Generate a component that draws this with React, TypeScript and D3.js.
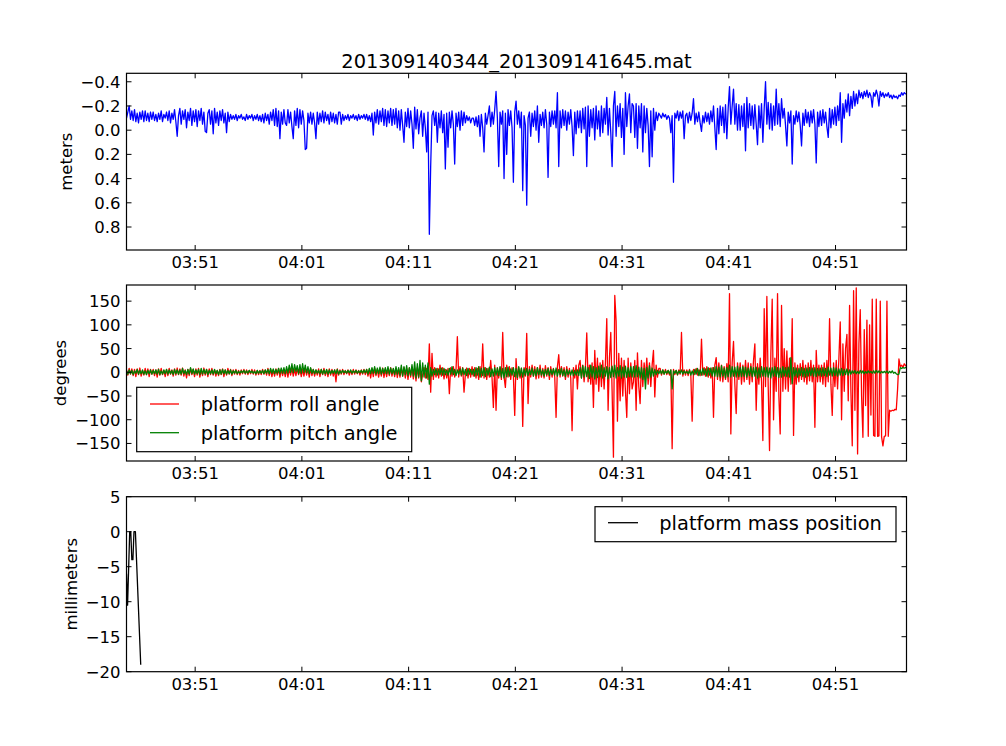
import * as d3 from "d3";

// sample clock: one reading every 7.5 s from the first timestamp
const day = (h: number, m: number, s = 0) => new Date(2013, 8, 14, h, m, s);
const START = day(3, 44, 34);
const END = day(4, 57, 39);
const STEP_MS = 7500;

const title = "201309140344_201309141645.mat";
const timeTicks = ["03:51", "04:01", "04:11", "04:21", "04:31", "04:41", "04:51"];
const depthTicks = [-0.4, -0.2, 0.0, 0.2, 0.4, 0.6, 0.8];
const angleTicks = [-150, -100, -50, 0, 50, 100, 150];
const massTicks = [-20, -15, -10, -5, 0, 5];

// platform depth (meters), positive down; 20 readings per 2.5 min
const depth = [
  -0.10, -0.15, -0.20, -0.09, -0.16, -0.08, -0.17, -0.07, -0.14, -0.06, -0.15, -0.09, -0.16, -0.07, -0.16, -0.08, -0.14, -0.07, -0.15, -0.09,
  -0.15, -0.08, -0.13, -0.07, -0.14, -0.09, -0.16, -0.07, -0.13, -0.10, -0.15, -0.08, -0.16, -0.06, -0.14, -0.09, -0.17, -0.07, 0.05, -0.12,
  -0.18, -0.05, -0.16, -0.09, -0.17, -0.02, -0.15, -0.08, -0.18, -0.04, -0.16, -0.07, -0.17, -0.03, -0.16, -0.08, -0.18, -0.05, -0.15, 0.01,
  0.02, -0.14, -0.17, -0.05, -0.16, 0.03, -0.18, -0.06, -0.15, -0.04, -0.16, -0.08, -0.17, -0.06, -0.14, 0.02, -0.15, -0.07, -0.13, -0.09,
  -0.12, -0.09, -0.13, -0.08, -0.12, -0.10, -0.13, -0.09, -0.11, -0.08, -0.13, -0.09, -0.12, -0.10, -0.13, -0.08, -0.12, -0.09, -0.13, -0.08,
  -0.12, -0.07, -0.13, -0.06, -0.14, -0.08, -0.13, -0.05, -0.15, -0.08, -0.17, -0.04, -0.18, -0.03, -0.16, 0.07, -0.15, -0.05, -0.17, -0.06,
  -0.04, -0.17, -0.06, -0.15, -0.03, 0.07, -0.16, -0.04, -0.18, -0.02, -0.17, -0.05, -0.16, -0.08, 0.16, 0.15, -0.14, -0.06, -0.15, -0.05,
  -0.14, -0.06, 0.07, -0.15, -0.05, -0.14, -0.07, -0.16, -0.06, -0.15, -0.08, -0.13, -0.05, -0.15, -0.07, -0.14, -0.06, -0.13, -0.05, -0.15,
  -0.15, -0.05, -0.13, -0.08, -0.12, -0.09, -0.13, -0.08, -0.12, -0.10, -0.13, -0.09, -0.12, -0.08, -0.13, -0.09, -0.12, -0.10, -0.13, -0.09,
  -0.13, -0.08, -0.12, -0.07, -0.14, 0.04, -0.15, -0.06, -0.17, -0.05, -0.16, -0.07, -0.18, -0.04, -0.17, -0.03, -0.16, -0.06, -0.18, -0.04,
  -0.17, -0.05, -0.18, -0.02, -0.16, 0.0, -0.17, -0.04, 0.10, -0.15, -0.03, -0.18, -0.02, -0.16, -0.05, 0.15, -0.19, -0.01, -0.17, 0.03,
  -0.10, -0.16, 0.05, -0.14, -0.02, 0.18, -0.15, 0.86, 0.30, -0.12, -0.16, -0.04, -0.15, 0.10, -0.14, -0.02, -0.16, 0.02, -0.13, 0.32,
  -0.14, 0.14, -0.15, -0.02, -0.16, -0.05, 0.28, -0.14, -0.03, -0.15, 0.0, -0.16, -0.04, -0.15, -0.06, -0.12, -0.08, -0.11, -0.06, -0.10,
  -0.10, -0.04, -0.11, -0.03, -0.12, 0.05, -0.13, -0.02, 0.18, -0.14, -0.05, -0.12, -0.20, -0.03, -0.15, -0.05, -0.17, -0.32, -0.10, 0.30,
  -0.15, -0.05, -0.16, 0.40, -0.14, 0.20, -0.17, -0.04, -0.16, -0.02, 0.43, -0.15, -0.24, -0.05, -0.16, -0.02, -0.15, 0.50, -0.12, -0.04,
  0.62, -0.10, -0.15, 0.05, -0.14, -0.03, -0.16, 0.0, -0.20, 0.10, -0.13, -0.04, -0.15, -0.02, -0.17, -0.05, 0.39, -0.15, -0.03, -0.16,
  -0.05, -0.16, -0.02, -0.31, 0.30, -0.16, -0.02, -0.17, -0.04, -0.16, 0.0, -0.15, -0.05, -0.17, -0.03, 0.21, -0.15, 0.03, -0.16, -0.02,
  -0.16, 0.02, -0.18, -0.01, -0.19, 0.30, -0.20, 0.05, -0.17, -0.02, -0.18, 0.08, -0.20, -0.01, -0.16, 0.05, -0.20, 0.02, -0.18, -0.05,
  -0.27, 0.04, -0.18, 0.02, 0.30, -0.20, -0.32, 0.05, -0.20, -0.03, -0.22, 0.06, -0.18, 0.20, -0.31, -0.03, -0.20, -0.30, 0.02, -0.22,
  -0.20, 0.06, -0.22, 0.15, -0.20, -0.02, -0.22, 0.18, -0.20, 0.02, -0.18, -0.04, 0.30, -0.16, 0.22, -0.18, 0.0, -0.15, -0.08, -0.14,
  -0.12, -0.10, -0.14, -0.11, -0.13, -0.09, -0.12, -0.10, 0.02, -0.12, 0.43, -0.14, -0.10, -0.16, -0.08, -0.15, -0.10, -0.16, 0.07, -0.12,
  -0.14, -0.06, -0.15, -0.08, -0.14, -0.26, -0.05, -0.14, -0.07, -0.15, -0.06, 0.01, -0.12, -0.06, -0.15, -0.07, -0.14, -0.05, -0.16, -0.07,
  -0.20, -0.02, 0.16, -0.18, 0.03, -0.20, -0.04, -0.19, 0.02, -0.21, 0.07, -0.18, -0.36, -0.05, -0.20, -0.34, -0.05, -0.22, 0.0, -0.21,
  0.0, -0.20, -0.03, -0.22, 0.17, -0.27, -0.02, -0.22, -0.04, -0.20, -0.01, -0.21, -0.05, 0.12, -0.20, -0.02, -0.22, 0.10, -0.18, -0.40,
  -0.05, -0.23, -0.01, -0.22, 0.0, -0.20, -0.04, -0.34, -0.05, -0.22, -0.03, -0.26, -0.10, -0.18, -0.04, 0.13, -0.15, -0.06, -0.16, 0.28,
  -0.12, -0.05, -0.16, -0.07, -0.15, -0.04, 0.13, -0.14, -0.04, -0.17, -0.06, -0.15, -0.03, -0.16, -0.06, -0.17, -0.05, 0.27, -0.15, -0.03,
  -0.16, -0.04, -0.17, -0.06, -0.15, -0.03, 0.06, -0.18, -0.02, -0.17, -0.05, -0.19, -0.04, -0.20, -0.08, -0.31, 0.10, -0.22, -0.10, -0.25,
  -0.15, -0.30, -0.12, -0.28, -0.18, -0.32, -0.20, -0.30, -0.22, -0.33, -0.27, -0.31, -0.26, -0.32, -0.28, -0.33, -0.27, -0.31, -0.28, -0.19,
  -0.31, -0.28, -0.33, -0.29, -0.20, -0.32, -0.28, -0.31, -0.27, -0.30, -0.28, -0.31, -0.27, -0.29, -0.26, -0.29, -0.27, -0.28, -0.26, -0.29,
  -0.28, -0.31, -0.29, -0.31, -0.30, -0.30,
];

// platform roll angle (degrees)
const roll = [
  5, -6, 8, -4, 7, -7, 6, -9, 7, -5, 9, -8, 4, -6, 8, -5, 7, -9, 6, -4,
  6, -7, 5, -10, 7, -6, 8, -5, 4, -9, 6, -7, 8, -4, 5, -8, 7, -6, 9, -5,
  7, -6, 9, -8, 5, -12, 6, -7, 8, -5, 6, -9, 7, -6, 8, -10, 5, -7, 9, -6,
  6, -9, 7, -5, 8, -6, 5, -8, 4, -7, 6, -5, 7, -9, 5, -6, 8, -4, 6, -7,
  5, -4, 6, -5, 4, -6, 5, -3, 6, -4, 5, -5, 4, -3, 6, -4, 5, -6, 4, -5,
  4, -5, 6, -4, 5, -6, 8, -7, 6, -9, 5, -8, 7, -6, 8, -10, 6, -7, 5, -9,
  7, -10, 8, -6, 9, -8, 6, -7, 8, -5, 7, -9, 6, -8, 9, -6, 7, -10, 8, -7,
  6, -8, 5, -6, 7, -9, 6, -5, 8, -7, 5, -9, 7, -6, 6, -8, 5, -20, 7, -6,
  5, -4, 6, -5, 4, -3, 5, -6, 4, -5, 6, -4, 5, -3, 4, -6, 5, -4, 6, -5,
  6, -8, 5, -12, 7, -9, 8, -7, 6, -10, 7, -8, 9, -11, 6, -9, 8, -7, 10, -8,
  7, -9, 8, -11, 6, -10, 9, -8, 10, -12, 8, -15, 9, -10, 11, -14, 8, -18, 10, -12,
  8, -20, -5, 10, -12, 8, -15, 60, -42, 40, -15, 10, -10, 8, -12, 15, -8, 10, -14, 6,
  -12, 8, -45, 10, -8, 12, -10, 6, 75, -10, 12, -8, 10, -42, -5, 9, -12, 8, -10, 12,
  -8, 10, -12, 8, -15, 12, -10, 60, -12, 10, -15, 8, -10, 25, -12, -74, 15, -80, 10, -12,
  10, -15, 84, -10, -32, 15, -10, 12, -15, 10, -8, -91, 29, -15, 10, -12, 8, -114, 10, -8,
  82, -66, 12, -10, 15, -8, 12, -14, 10, -12, 15, -10, 8, -12, 14, -8, 10, -15, 12, -10,
  8, -10, -95, 12, 37, -10, 12, -8, 10, -15, 12, -10, 8, -12, -123, 10, -12, 15, -35, 15,
  25, -12, 15, -20, 10, 83, -20, 15, -25, 20, -74, 46, -25, 30, -40, 20, -30, 25, -35, 20,
  113, -80, 30, 84, -40, -179, 162, 108, -103, 40, -60, 30, -50, 25, -40, -95, 30, -45, 20, -35,
  -20, 25, -80, 41, -30, -66, 25, -30, 20, -15, 30, -25, 20, -30, 15, 46, -52, 15, -10, 8,
  8, -6, 5, -4, 6, -5, 4, -6, 5, -161, 6, -5, 4, -6, 5, -4, 84, -8, 5, -6,
  5, -7, 6, -5, -103, 6, -5, 8, -6, 5, -7, 70, -6, 10, -8, 12, -10, 8, -12, 10,
  -95, 15, 31, -15, 20, -18, 15, -20, 12, -15, 18, -20, 166, -130, 20, 65, -25, -87, 20, -15,
  20, -25, 15, -20, 25, -15, 20, -25, 18, -20, 25, 60, -80, 18, -25, 30, -20, -144, 134, -30,
  160, -30, -165, 40, 154, -100, 30, -40, 166, -50, -130, 141, -40, 50, -35, 45, -40, 30, -25, 113,
  -133, 20, -25, 15, -20, 18, -15, 25, -20, 15, -25, 20, -18, 25, -20, 15, -116, 46, -20, 15,
  -20, 15, -25, 20, -30, 25, -20, 113, -25, -91, 20, -30, 25, -35, 30, 106, -100, 60, -40, 50,
  80, -60, 141, -40, -155, 172, -80, 178, -172, 60, 132, -50, -137, 90, -70, 110, -135, 100, -90, 154,
  -133, -135, 154, -135, -134, 150, -136, -155, -135, -134, 150, -135, -80, -82, -80, -81, -78, -79, -35, 28,
  12, 15, 10, 18, 14, 12,
];

// platform pitch angle (degrees)
const pitch = [
  3, -4, 5, -3, 4, -5, 3, -2, 6, -4, 4, -3, 5, -4, 3, -5, 4, -3, 5, -4,
  4, -3, 5, -4, 6, -5, 3, -4, 5, -3, 6, -4, 5, -3, 4, -5, 6, -3, 5, -4,
  5, -4, 8, -3, 4, -5, 6, -4, 10, -3, 7, -4, 5, -3, 6, -5, 8, -4, 6, -3,
  6, -5, 4, -3, 5, -4, 6, -3, 4, -5, 5, -4, 6, -3, 5, -4, 4, -3, 5, -4,
  3, -2, 4, -3, 2, -2, 3, -1, 4, -2, 3, -2, 4, -1, 3, -2, 2, -3, 4, -2,
  3, -2, 4, -3, 5, -2, 6, -3, 8, -2, 7, -3, 6, -2, 8, -3, 9, -2, 10, -3,
  12, -2, 15, 0, 18, -1, 16, 2, 14, -3, 16, -2, 18, 0, 15, -1, 12, -3, 10, -2,
  6, -3, 5, -2, 4, -3, 6, -4, 5, -3, 6, -4, 5, -3, 4, -2, 5, -3, 6, -4,
  3, -2, 4, -1, 3, -2, 4, -1, 5, -2, 3, -1, 4, -2, 3, -1, 4, -2, 5, -1,
  6, -4, 8, -3, 10, -2, 12, -4, 9, -3, 11, -4, 8, -2, 10, -3, 12, -4, 9, -3,
  8, -5, 12, -4, 10, -6, 15, -8, 12, -5, 14, -7, 10, -6, 16, -8, 22, -12, 18, -10,
  25, -18, 20, -10, 15, -12, 20, -25, 10, -8, 6, -5, 8, -6, 7, -5, 9, -6, 8, -5,
  5, -6, 8, -4, 12, -5, 6, -7, 5, -4, 7, -6, 9, -5, 6, -7, 8, -4, 6, -5,
  6, -8, 10, -6, 12, -10, 8, -7, 10, -9, 8, -6, 11, -9, 7, -8, 10, -6, 9, -7,
  12, -10, 8, -12, 10, -9, 11, -8, 7, -6, 10, -9, 8, -11, 12, -8, 9, -10, 7, -6,
  8, -7, 6, -5, 9, -8, 6, -7, 10, -5, 7, -6, 5, -8, 6, -5, 8, -7, 6, -5,
  7, -6, 9, -8, 6, -5, 8, -7, 5, -9, 6, -5, 4, -6, 5, -7, 4, -6, 5, -7,
  10, -12, 14, -10, 12, -9, 10, -13, 15, -10, 12, -14, 10, -11, 13, -9, 15, -12, 10, -8,
  12, -14, 10, -11, 13, -9, 15, -12, 10, -8, 14, -12, 11, -10, 13, -11, 10, -9, 12, -10,
  12, -10, 14, -9, 11, -12, 10, -15, 8, -35, 10, -12, 14, -10, 9, -8, 6, -5, 4, -3,
  4, -3, 5, -4, 3, -2, 4, -3, 5, -35, 3, -2, 4, -5, 3, -2, 5, -4, 3, -2,
  2, -3, 4, -6, 3, -5, 6, -4, 8, -7, 5, -6, 8, -5, 7, -8, 10, -6, 9, -8,
  10, -8, 12, -9, 11, -10, 14, -8, 9, -12, 10, -9, 15, -10, 12, -8, 11, -10, 13, -9,
  10, -9, 12, -8, 11, -10, 9, -7, 12, -9, 10, -8, 11, -12, 9, -10, 12, -8, 10, -9,
  11, -10, 9, -12, 10, -8, 12, -9, 10, -11, 9, -10, 12, -8, 10, -9, 11, -10, 31, -24,
  10, -8, 9, -10, 8, -7, 10, -9, 8, -10, 9, -8, 10, -7, 9, -8, 10, -9, 8, -7,
  9, -8, 10, -7, 8, -9, 11, -6, 9, -8, 10, -7, 9, -8, 7, -6, 8, -7, 6, -5,
  7, -6, 5, -4, 3, -2, 4, -3, 2, -3, 4, -2, 3, -3, 2, -2, 3, -1, 2, -2,
  3, -2, 4, -1, 3, -2, 2, -1, 2, -1, 3, -2, 2, -1, 3, -2, 0, -3, -5, -4,
  10, 8, 10, 9, 10, 10,
];

// platform mass position: seconds after START, millimeters
const massSeconds = [0, 6, 18, 24, 30, 36, 42, 50, 80];
const massValues = [-6, -10.5, 0, 0, -4, -4, 0, 0, -19];

const W = 1006;
const H = 746;
const LEFT = 126.5;
const RIGHT = 906.5;
const FONT = "DejaVu Sans, sans-serif";
const TICK_FS = 16.5;
const LEGEND_FS = 19.4;
const LW = 1.3;

const toTime = (s: string) => {
  const [h, m] = s.split(":").map(Number);
  return day(h, m);
};

const x = d3.scaleTime().domain([START, END]).range([LEFT, RIGHT]);
const sampleTime = (i: number) => new Date(START.getTime() + i * STEP_MS);

interface PanelProps {
  id: string;
  top: number;
  bottom: number;
  y: d3.ScaleLinear<number, number>;
  ticks: number[];
  fmt: (v: number) => string;
  label: string;
  labelX: number;
  children?: React.ReactNode;
}

function Panel({ id, top, bottom, y, ticks, fmt, label, labelX, children }: PanelProps) {
  const tl = 5;
  const midY = (top + bottom) / 2;
  return (
    <g>
      <clipPath id={id}>
        <rect x={LEFT} y={top} width={RIGHT - LEFT} height={bottom - top} />
      </clipPath>
      <g clipPath={`url(#${id})`}>{children}</g>
      {timeTicks.map((t) => {
        const px = x(toTime(t));
        return (
          <g key={t}>
            <line x1={px} x2={px} y1={bottom} y2={bottom - tl} stroke="#000" />
            <line x1={px} x2={px} y1={top} y2={top + tl} stroke="#000" />
            <text x={px} y={bottom + 18} textAnchor="middle" fontSize={TICK_FS} fontFamily={FONT}>
              {t}
            </text>
          </g>
        );
      })}
      {ticks.map((v) => {
        const py = y(v);
        return (
          <g key={v}>
            <line x1={LEFT} x2={LEFT + tl} y1={py} y2={py} stroke="#000" />
            <line x1={RIGHT} x2={RIGHT - tl} y1={py} y2={py} stroke="#000" />
            <text x={LEFT - 6} y={py + 6} textAnchor="end" fontSize={TICK_FS} fontFamily={FONT}>
              {fmt(v)}
            </text>
          </g>
        );
      })}
      <rect x={LEFT} y={top} width={RIGHT - LEFT} height={bottom - top} fill="none" stroke="#000" strokeWidth={1.2} />
      <text
        transform={`translate(${labelX},${midY}) rotate(-90)`}
        textAnchor="middle"
        fontSize={TICK_FS}
        fontFamily={FONT}
      >
        {label}
      </text>
    </g>
  );
}

export default function App() {
  const yDepth = d3.scaleLinear().domain([-0.47, 0.99]).range([73.3, 250]);
  const yAngle = d3.scaleLinear().domain([184, -187]).range([285, 461]);
  const yMass = d3.scaleLinear().domain([5, -20]).range([496.7, 671.7]);

  const seriesPath = (vals: number[], y: d3.ScaleLinear<number, number>) =>
    d3
      .line<number>()
      .x((_, i) => x(sampleTime(i)))
      .y((d) => y(d))(vals) ?? "";

  const massPath =
    d3
      .line<number>()
      .x((_, i) => x(new Date(START.getTime() + massSeconds[i] * 1000)))
      .y((d) => yMass(d))(massValues) ?? "";

  const fmt1 = d3.format(".1f");
  const fmt0 = d3.format("d");

  return (
    <svg
      width={W}
      height={H}
      style={{ position: "absolute", left: 0, top: 0, background: "#fff" }}
    >
      <rect width={W} height={H} fill="#fff" />
      <text x={(LEFT + RIGHT) / 2} y={68} textAnchor="middle" fontSize={LEGEND_FS} fontFamily={FONT}>
        {title}
      </text>

      <Panel id="c1" top={73.3} bottom={250} y={yDepth} ticks={depthTicks} fmt={fmt1} label="meters" labelX={71.5}>
        <path d={seriesPath(depth, yDepth)} fill="none" stroke="#0000ff" strokeWidth={LW} strokeLinejoin="round" />
      </Panel>

      <Panel id="c2" top={285} bottom={461} y={yAngle} ticks={angleTicks} fmt={fmt0} label="degrees" labelX={66}>
        <path d={seriesPath(roll, yAngle)} fill="none" stroke="#ff0000" strokeWidth={LW} strokeLinejoin="round" />
        <path d={seriesPath(pitch, yAngle)} fill="none" stroke="#008000" strokeWidth={LW} strokeLinejoin="round" />
      </Panel>
      <g>
        <rect x={136.7} y={387.3} width={275} height={64.4} fill="#fff" stroke="#000" strokeWidth={1.2} />
        <line x1={150} x2={179} y1={404} y2={404} stroke="#ff0000" strokeWidth={LW} />
        <text x={200.7} y={411} fontSize={LEGEND_FS} fontFamily={FONT}>platform roll angle</text>
        <line x1={150} x2={179} y1={432.7} y2={432.7} stroke="#008000" strokeWidth={LW} />
        <text x={200.7} y={439.7} fontSize={LEGEND_FS} fontFamily={FONT}>platform pitch angle</text>
      </g>

      <Panel id="c3" top={496.7} bottom={671.7} y={yMass} ticks={massTicks} fmt={fmt0} label="millimeters" labelX={77}>
        <path d={massPath} fill="none" stroke="#000" strokeWidth={LW} strokeLinejoin="round" />
      </Panel>
      <g>
        <rect x={595} y={506.7} width={301} height={35} fill="#fff" stroke="#000" strokeWidth={1.2} />
        <line x1={608} x2={638} y1={522.7} y2={522.7} stroke="#000" strokeWidth={LW} />
        <text x={659.3} y={529.7} fontSize={LEGEND_FS} fontFamily={FONT}>platform mass position</text>
      </g>
    </svg>
  );
}
